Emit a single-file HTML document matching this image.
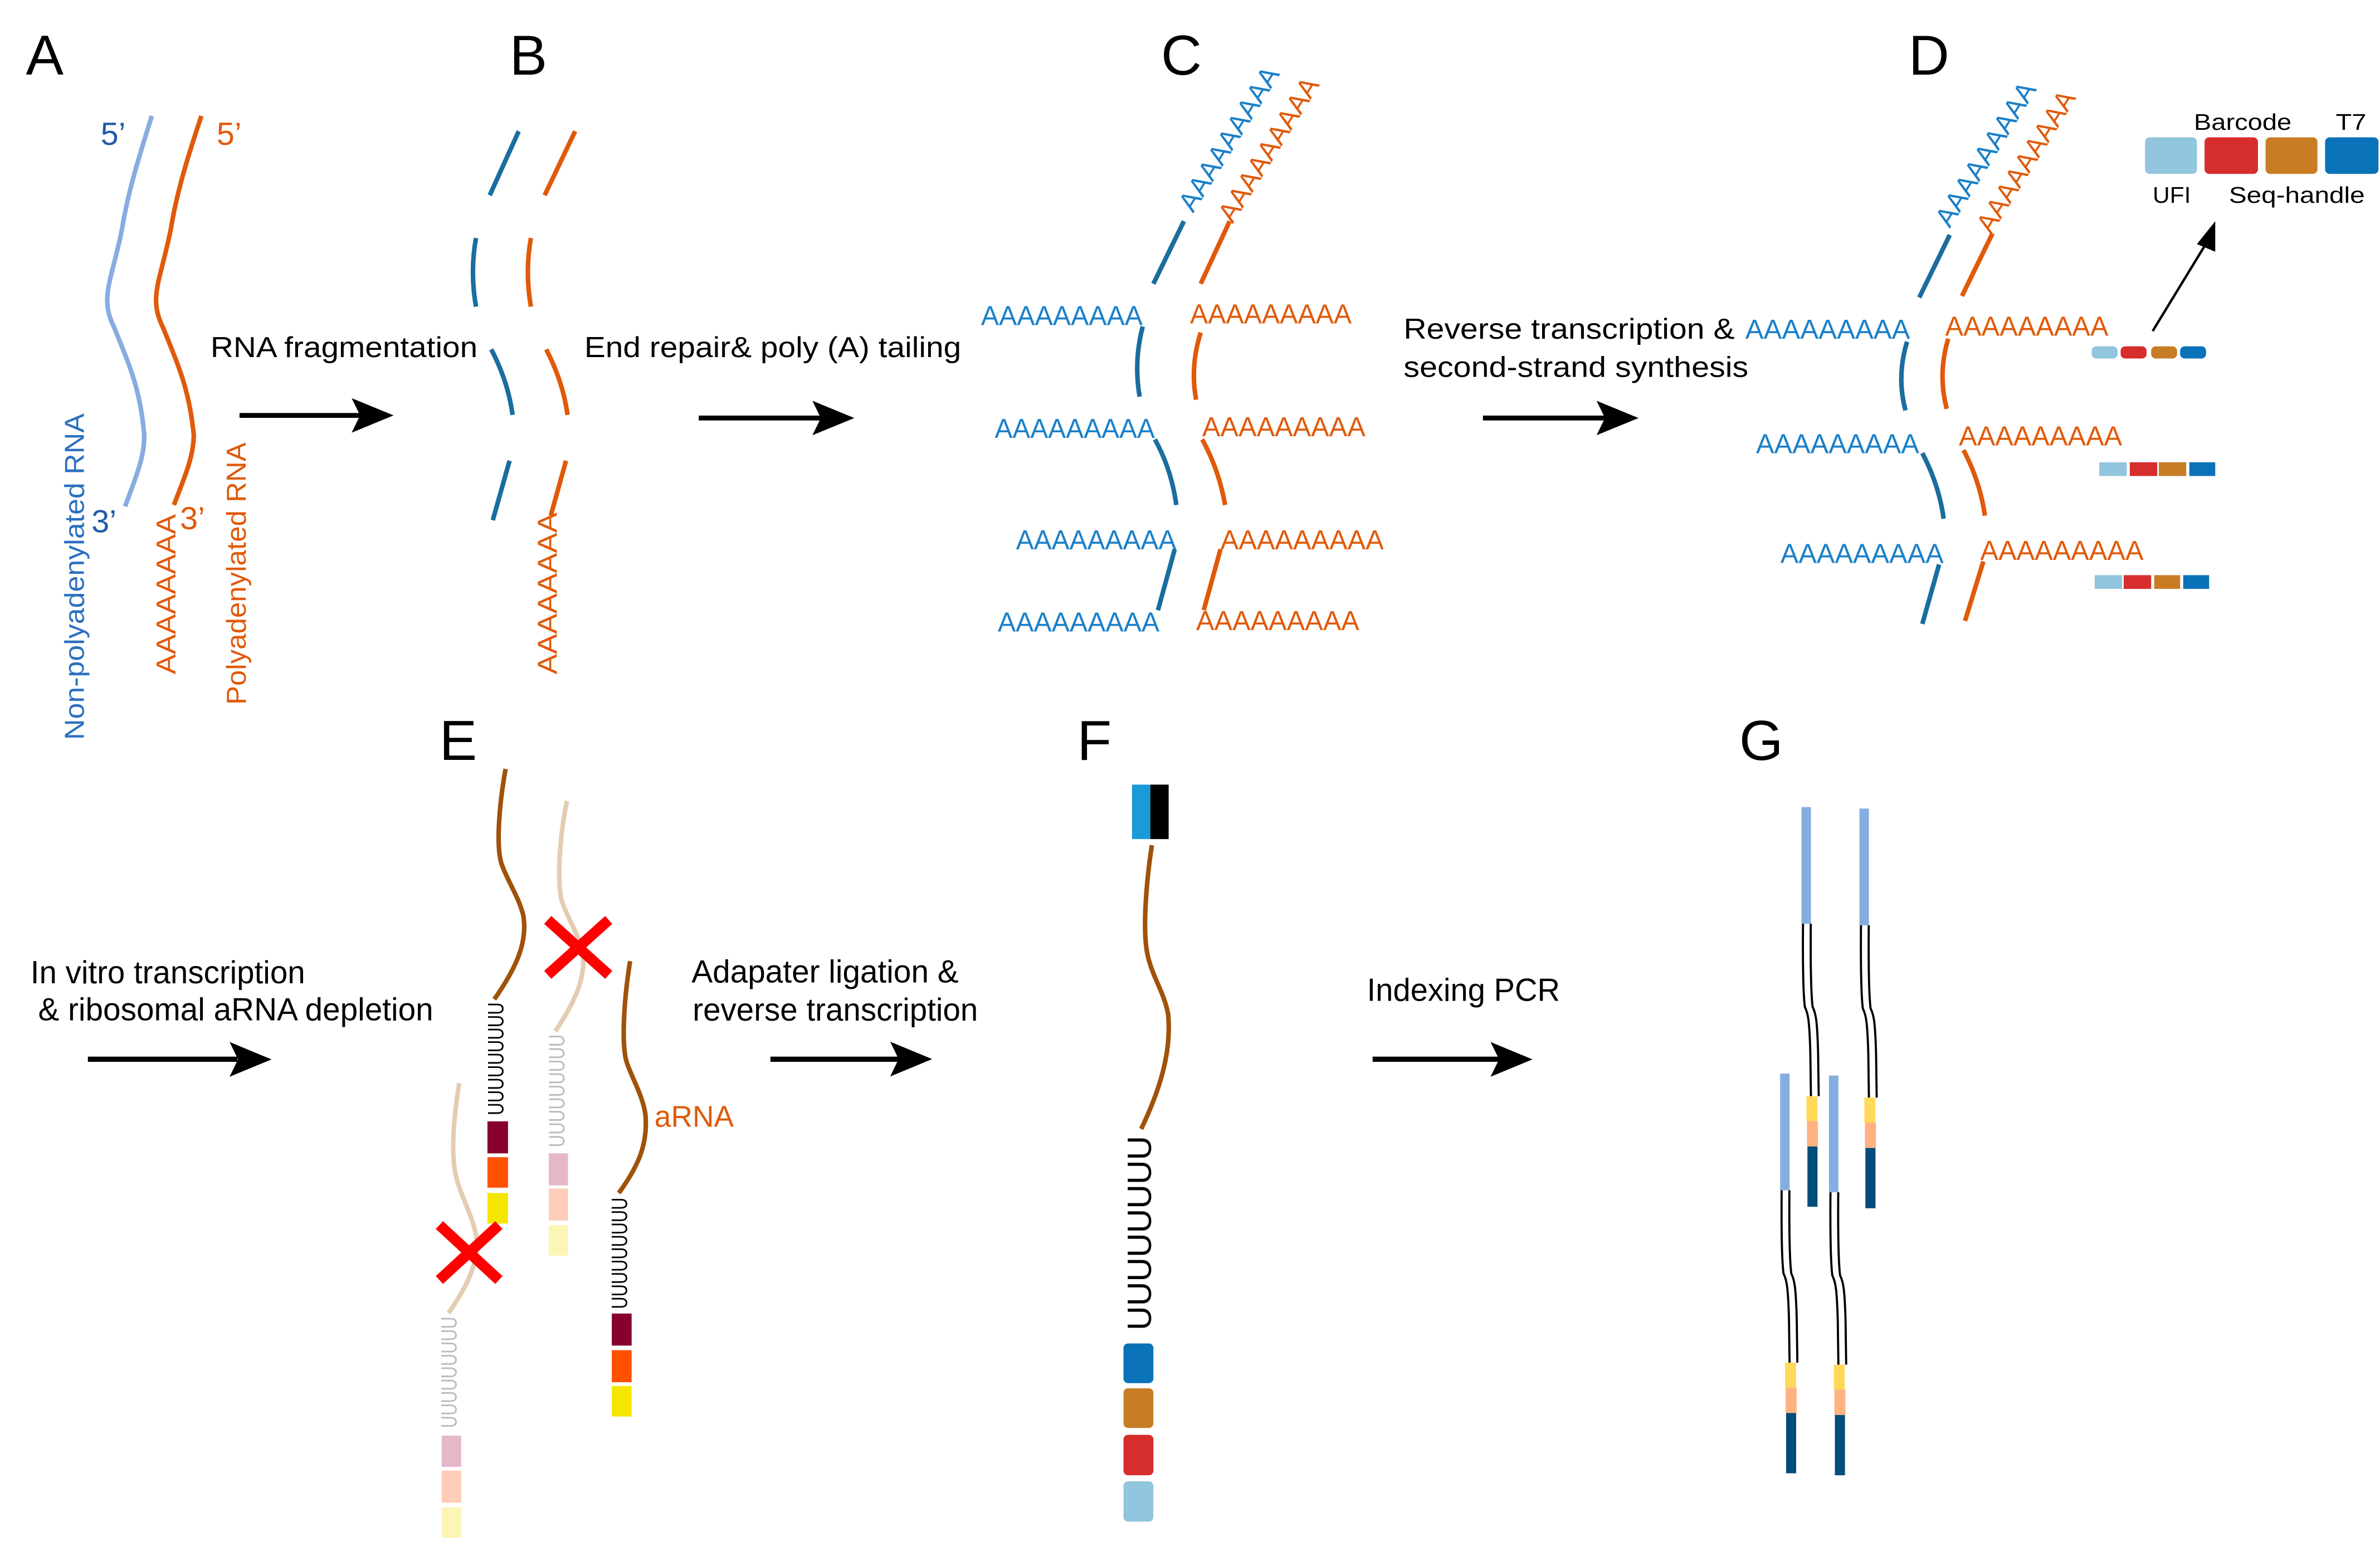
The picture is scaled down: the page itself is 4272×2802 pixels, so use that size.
<!DOCTYPE html>
<html><head><meta charset="utf-8"><style>
html,body{margin:0;padding:0;background:#fff;}
svg{display:block;}
text{font-family:"Liberation Sans",Arial,sans-serif;}
</style></head><body>
<svg xmlns="http://www.w3.org/2000/svg" width="4272" height="2802" viewBox="0 0 1560 1023.2" preserveAspectRatio="none">
<rect width="1560" height="1024" fill="#fff"/>
<g font-size="37" fill="#000">
<text x="17" y="49">A</text>
<text x="334" y="49">B</text>
<text x="761" y="49">C</text>
<text x="1251" y="49">D</text>
<text x="288" y="498">E</text>
<text x="706" y="498">F</text>
<text x="1140" y="498">G</text>
</g>

<g fill="#000" stroke="none">
<rect x="157" y="270.7" width="80" height="3.2"/><polygon points="258,272.3 230.5,261 236,272.3 230.5,283.6"/>
<rect x="458" y="272.4" width="80" height="3.2"/><polygon points="560,274 532.5,262.7 538,274 532.5,285.3"/>
<rect x="972" y="272.4" width="80" height="3.2"/><polygon points="1074,274 1046.5,262.7 1052,274 1046.5,285.3"/>
<rect x="57.6" y="692.6" width="98" height="3.4"/><polygon points="178,694.4 150.5,683 156,694.4 150.5,705.8"/>
<rect x="505" y="692.6" width="84" height="3.4"/><polygon points="611,694.2 583.5,682.8 589,694.2 583.5,705.6"/>
<rect x="899.7" y="692.6" width="83" height="3.4"/><polygon points="1004.5,694.4 977,683 982.6,694.4 977,705.8"/>
</g>
<line x1="1411" y1="217" x2="1447" y2="158" stroke="#000" stroke-width="1.6"/>
<polygon points="1452,145 1452,165 1440,160" fill="#000"/>

<g fill="#000" font-size="19">
<text x="138" y="234" textLength="175" lengthAdjust="spacingAndGlyphs">RNA fragmentation</text>
<text x="383" y="234" textLength="247" lengthAdjust="spacingAndGlyphs">End repair&amp; poly (A) tailing</text>
<text x="920" y="222" textLength="217" lengthAdjust="spacingAndGlyphs">Reverse transcription &amp;</text>
<text x="920" y="247" textLength="226" lengthAdjust="spacingAndGlyphs">second-strand synthesis</text>
</g>
<g fill="#000" font-size="21">
<text x="20" y="644.5" textLength="180" lengthAdjust="spacingAndGlyphs">In vitro transcription</text>
<text x="25" y="668.8" textLength="259" lengthAdjust="spacingAndGlyphs">&amp; ribosomal aRNA depletion</text>
<text x="453.3" y="644" textLength="175" lengthAdjust="spacingAndGlyphs">Adapater ligation &amp;</text>
<text x="454" y="668.9" textLength="187" lengthAdjust="spacingAndGlyphs">reverse transcription</text>
<text x="896" y="656" textLength="126.5" lengthAdjust="spacingAndGlyphs">Indexing PCR</text>
</g>

<g fill="none" stroke-width="3" stroke-linecap="butt">
<path d="M99.5,76 C92,100 84,125 80,150 C73,185 65,195 75,215 C85,240 92,255 94.5,285 C95,300 88,315 82,332" stroke="#86ace0"/>
<path d="M132,76 C124,100 116,125 112,150 C105,185 97,195 107,215 C117,240 124,255 127,285 C127,300 120,315 114,331" stroke="#e05a0a"/>
</g>
<text x="66" y="95" font-size="21" fill="#1f5ba8">5’</text>
<text x="142" y="95" font-size="21" fill="#e05a0a">5’</text>
<text x="60" y="349" font-size="21" fill="#1f5ba8">3’</text>
<text x="118" y="347" font-size="21" fill="#e05a0a">3’</text>
<text transform="translate(55,485) rotate(-90)" font-size="18" fill="#2b70c0" textLength="214" lengthAdjust="spacingAndGlyphs">Non-polyadenylated RNA</text>
<text transform="translate(115,442) rotate(-90)" font-size="18" fill="#e05a0a" textLength="105" lengthAdjust="spacingAndGlyphs">AAAAAAAA</text>
<text transform="translate(161,462) rotate(-90)" font-size="18" fill="#e05a0a" textLength="172" lengthAdjust="spacingAndGlyphs">Polyadenylated RNA</text>

<g fill="none" stroke-width="3">
<g stroke="#1a6d9e">
<path d="M340,86 L321,128"/>
<path d="M312,156 Q308,178 312,201"/>
<path d="M322,229 Q333,250 336,272"/>
<path d="M334,302 L323,341"/>
</g>
<g stroke="#e05a0a">
<path d="M377,86 L357,128"/>
<path d="M348,156 Q344,178 348,201"/>
<path d="M358,229 Q369,250 372,272"/>
<path d="M371,302 L361,338"/>
</g>
</g>
<text transform="translate(365,442) rotate(-90)" font-size="18" fill="#e05a0a" textLength="106" lengthAdjust="spacingAndGlyphs">AAAAAAAA</text>

<g fill="none" stroke-width="3">
<g stroke="#1a6d9e">
<path d="M776,145 L756,186"/>
<path d="M749,214 Q743,237 747,260"/>
<path d="M757,288 Q768,308 771,331"/>
<path d="M770,360 L759,400"/>
</g>
<g stroke="#e05a0a">
<path d="M806,145 L787,186"/>
<path d="M787,218 Q780,240 784,262"/>
<path d="M788,288 Q799,308 803,331"/>
<path d="M800,360 L789,400"/>
</g>
</g>
<g font-size="18" fill="#1a80c8">
<text x="643" y="213" textLength="106" lengthAdjust="spacingAndGlyphs">AAAAAAAAA</text>
<text x="652" y="287" textLength="105" lengthAdjust="spacingAndGlyphs">AAAAAAAAA</text>
<text x="666" y="360" textLength="105" lengthAdjust="spacingAndGlyphs">AAAAAAAAA</text>
<text x="654" y="414" textLength="106" lengthAdjust="spacingAndGlyphs">AAAAAAAAA</text>
<text transform="translate(782,140) rotate(-58)" textLength="108" lengthAdjust="spacingAndGlyphs">AAAAAAAAA</text>
</g>
<g font-size="18" fill="#e05a0a">
<text x="780" y="212" textLength="106" lengthAdjust="spacingAndGlyphs">AAAAAAAAA</text>
<text x="788" y="286" textLength="107" lengthAdjust="spacingAndGlyphs">AAAAAAAAA</text>
<text x="800" y="360" textLength="107" lengthAdjust="spacingAndGlyphs">AAAAAAAAA</text>
<text x="784" y="413" textLength="107" lengthAdjust="spacingAndGlyphs">AAAAAAAAA</text>
<text transform="translate(808,147) rotate(-58)" textLength="108" lengthAdjust="spacingAndGlyphs">AAAAAAAAA</text>
</g>

<g fill="none" stroke-width="3">
<g stroke="#1a6d9e">
<path d="M1278,154 L1258,195"/>
<path d="M1250,224 Q1243,247 1249,269"/>
<path d="M1260,297 Q1271,318 1274,340"/>
<path d="M1271,370 L1260,409"/>
</g>
<g stroke="#e05a0a">
<path d="M1306,153 L1286,194"/>
<path d="M1277,222 Q1270,245 1276,268"/>
<path d="M1287,295 Q1298,316 1301,338"/>
<path d="M1300,368 L1288,407"/>
</g>
</g>
<g font-size="18" fill="#1a80c8">
<text x="1144" y="222" textLength="108" lengthAdjust="spacingAndGlyphs">AAAAAAAAA</text>
<text x="1151" y="297" textLength="107" lengthAdjust="spacingAndGlyphs">AAAAAAAAA</text>
<text x="1167" y="369" textLength="107" lengthAdjust="spacingAndGlyphs">AAAAAAAAA</text>
<text transform="translate(1278,150) rotate(-58)" textLength="108" lengthAdjust="spacingAndGlyphs">AAAAAAAAA</text>
</g>
<g font-size="18" fill="#e05a0a">
<text x="1275" y="220" textLength="107" lengthAdjust="spacingAndGlyphs">AAAAAAAAA</text>
<text x="1284" y="292" textLength="107" lengthAdjust="spacingAndGlyphs">AAAAAAAAA</text>
<text x="1298" y="367" textLength="107" lengthAdjust="spacingAndGlyphs">AAAAAAAAA</text>
<text transform="translate(1305,154) rotate(-58)" textLength="106" lengthAdjust="spacingAndGlyphs">AAAAAAAAA</text>
</g>
<rect x="1406" y="90" width="34" height="24" rx="3" fill="#92c5de"/>
<rect x="1445" y="90" width="35" height="24" rx="3" fill="#d62d2d"/>
<rect x="1485" y="90" width="34" height="24" rx="3" fill="#c87d25"/>
<rect x="1524" y="90" width="35" height="24" rx="3" fill="#0a72b8"/>
<g font-size="15" fill="#000">
<text x="1438" y="85" textLength="64" lengthAdjust="spacingAndGlyphs">Barcode</text>
<text x="1531" y="85" textLength="20" lengthAdjust="spacingAndGlyphs">T7</text>
<text x="1411" y="133" textLength="25" lengthAdjust="spacingAndGlyphs">UFI</text>
<text x="1461" y="133" textLength="89" lengthAdjust="spacingAndGlyphs">Seq-handle</text>
</g>
<g>
<rect x="1371" y="227" width="17" height="8" rx="3" fill="#92c5de"/>
<rect x="1390" y="227" width="17" height="8" rx="3" fill="#d62d2d"/>
<rect x="1410" y="227" width="17" height="8" rx="3" fill="#c87d25"/>
<rect x="1429" y="227" width="17" height="8" rx="3" fill="#0a72b8"/>
<rect x="1376" y="303" width="18" height="9" fill="#92c5de"/>
<rect x="1396" y="303" width="18" height="9" fill="#d62d2d"/>
<rect x="1415" y="303" width="18" height="9" fill="#c87d25"/>
<rect x="1435" y="303" width="17" height="9" fill="#0a72b8"/>
<rect x="1373" y="377" width="18" height="9" fill="#92c5de"/>
<rect x="1392" y="377" width="18" height="9" fill="#d62d2d"/>
<rect x="1412" y="377" width="17" height="9" fill="#c87d25"/>
<rect x="1431" y="377" width="17" height="9" fill="#0a72b8"/>
</g>

<g fill="none" stroke-width="3">
<path d="M371.6,525 C367,547 365,575 368,590 C372,602 379,612 382,624 C384,640 378,655 364,676" stroke="#e3cdb0"/>
<path d="M301,710 C297,735 295,760 300,775 C304,788 311,800 312.6,813 C313,830 305,845 294,860.7" stroke="#e3cdb0"/>
<path d="M331.4,504 C327,528 325,556 329,567 C333,578 340,588 343,600 C346,618 338,635 324,655" stroke="#a0520a"/>
<path d="M413,630 C409,655 407,685 411,697 C415,708 421,718 423,730 C425,750 418,765 405.6,782" stroke="#a0520a"/>
</g>
<g font-size="14.5" fill="#000">
<text transform="translate(330,731) rotate(-90)" textLength="74" lengthAdjust="spacingAndGlyphs">UUUUUUUUU</text>
<text transform="translate(411,858) rotate(-90)" textLength="73" lengthAdjust="spacingAndGlyphs">UUUUUUUUU</text>
</g>
<g font-size="14.5" fill="#bbbbbb">
<text transform="translate(370,752) rotate(-90)" textLength="74" lengthAdjust="spacingAndGlyphs">UUUUUUUUU</text>
<text transform="translate(299.3,936) rotate(-90)" textLength="73" lengthAdjust="spacingAndGlyphs">UUUUUUUUU</text>
</g>
<rect x="319.5" y="735" width="13.5" height="21" fill="#870030"/>
<rect x="319.5" y="758.5" width="13.5" height="20" fill="#ff5000"/>
<rect x="319.5" y="782" width="13.5" height="20" fill="#f5e600"/>
<rect x="401" y="861" width="13" height="21" fill="#870030"/>
<rect x="401" y="885" width="13" height="21" fill="#ff5000"/>
<rect x="401" y="908.5" width="13" height="20" fill="#f5e600"/>
<rect x="359.7" y="756" width="12.6" height="21" fill="#e5b8c8"/>
<rect x="359.7" y="779" width="12.6" height="21" fill="#ffcdb8"/>
<rect x="359.7" y="803" width="12.6" height="20" fill="#fdf5b5"/>
<rect x="289.5" y="941" width="12.8" height="20.5" fill="#e5b8c8"/>
<rect x="289.5" y="964" width="12.8" height="21" fill="#ffcdb8"/>
<rect x="289.5" y="988" width="12.8" height="20" fill="#fdf5b5"/>
<g stroke="#ff0000" stroke-width="7">
<line x1="359" y1="603" x2="399" y2="639"/><line x1="399" y1="603" x2="359" y2="639"/>
<line x1="288" y1="803" x2="327" y2="839"/><line x1="327" y1="803" x2="288" y2="839"/>
</g>
<text x="429" y="738.6" font-size="19.5" fill="#e05a0a" textLength="52" lengthAdjust="spacingAndGlyphs">aRNA</text>

<rect x="742" y="514.3" width="12" height="35.7" fill="#1a9ad6"/>
<rect x="754" y="514.3" width="12" height="35.7" fill="#000"/>
<path d="M755,554 C751,580 749,610 752,625 C755,640 763,650 765.7,665 C768,690 760,715 748,740" fill="none" stroke="#a0520a" stroke-width="3"/>
<text transform="translate(754.5,872) rotate(-90)" font-size="22" fill="#000" textLength="127.5" lengthAdjust="spacingAndGlyphs">UUUUUUUU</text>
<rect x="736.4" y="880.6" width="19.6" height="26" rx="3" fill="#0a72b8"/>
<rect x="736.4" y="910" width="19.6" height="26" rx="3" fill="#c87d25"/>
<rect x="736.4" y="940.5" width="19.6" height="26.5" rx="3" fill="#d62d2d"/>
<rect x="736.4" y="971" width="19.6" height="26.4" rx="3" fill="#92c5de"/>

<defs>
<g id="mol">
<rect x="1180.8" y="529" width="6.2" height="76.5" fill="#84aee0"/>
<path d="M1181.8,605.5 C1181.6,630 1181.8,650 1183,660 C1185,664 1186,668 1186.6,690 L1187,718.5" fill="none" stroke="#000" stroke-width="1.4"/>
<path d="M1186.9,605.5 C1186.7,630 1186.9,650 1188.1,660 C1190.1,664 1191.1,668 1191.7,690 L1192.1,718.5" fill="none" stroke="#000" stroke-width="1.4"/>
<rect x="1184" y="718.5" width="7.2" height="16.3" fill="#ffd95a"/>
<rect x="1184.4" y="734.8" width="7.2" height="16.7" fill="#ffb380"/>
<rect x="1184.7" y="751.5" width="6.6" height="39.5" fill="#004c7a"/>
</g>
</defs>
<use href="#mol"/>
<use href="#mol" transform="translate(38,1)"/>
<use href="#mol" transform="translate(-14,174.7)"/>
<use href="#mol" transform="translate(18,176)"/>
</svg>
</body></html>
